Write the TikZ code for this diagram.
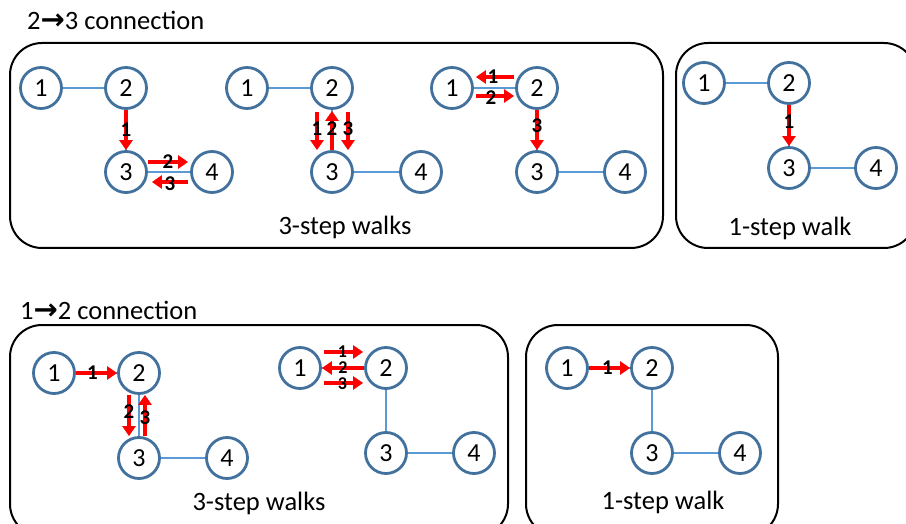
\documentclass[tikz,border=0pt]{standalone}
\usepackage{fontspec}
\setmainfont{Carlito}
\newfontfamily\arrowfont{DejaVu Sans}
\usetikzlibrary{arrows.meta}
\definecolor{vblue}{HTML}{41719C}
\definecolor{eblue}{HTML}{5B9BD5}
\tikzset{
  v/.style={circle, draw=vblue, line width=2.8pt, minimum size=41pt, inner sep=0pt, font=\fontsize{26}{26}\selectfont},
  e/.style={draw=eblue, line width=1.3pt},
  wk/.style={draw=red, line width=4.5pt, -{Triangle[width=13pt,length=10pt]}},
  lab/.style={font=\bfseries\fontsize{21}{21}\selectfont, inner sep=0pt},
  labs/.style={font=\bfseries\fontsize{18}{18}\selectfont, inner sep=0pt},
  panel/.style={draw=black, line width=2pt, rounded corners=32pt},
  captxt/.style={font=\fontsize{26.5}{26.5}\selectfont},
  ttl/.style={font=\fontsize{26.5}{26.5}\selectfont, anchor=west, inner sep=0pt}
}
\begin{document}
\begin{tikzpicture}[x=1pt,y=-1pt]
\useasboundingbox (0,0) rectangle (906,524);
\clip (0,0) rectangle (906,524);
% titles
\node[ttl] (t1) at (27,20) {2{\arrowfont\bfseries\fontsize{29}{29}\selectfont →}3 connection};
\node[ttl] (t2) at (20,310) {1{\arrowfont\bfseries\fontsize{29}{29}\selectfont →}2 connection};
% panels
\draw[panel] (10,43) rectangle (663,248);
\draw[panel] (676,43) rectangle (916,248);
\draw[panel] (10,325) rectangle (508,536);
\draw[panel] (526,325) rectangle (778,536);
\node[captxt] (c1) at (345,227) {3-step walks};
\node[captxt] (c2) at (790,228) {1-step walk};
\node[captxt] (c3) at (259,503) {3-step walks};
\node[captxt] (c4) at (663,502) {1-step walk};
% graph A
\node[v] (a1) at (41,88) {1};
\node[v] (a2) at (126,88) {2};
\node[v] (a3) at (126,172) {3};
\node[v] (a4) at (212,172) {4};
% graph B
\node[v] (b1) at (247,88) {1};
\node[v] (b2) at (332,88) {2};
\node[v] (b3) at (332,172) {3};
\node[v] (b4) at (421,172) {4};
% graph C
\node[v] (cc1) at (452,88) {1};
\node[v] (cc2) at (537,88) {2};
\node[v] (cc3) at (537,172) {3};
\node[v] (cc4) at (625,172) {4};
% graph D
\node[v] (d1) at (704,83) {1};
\node[v] (d2) at (789,83) {2};
\node[v] (d3) at (789,168) {3};
\node[v] (d4) at (876,168) {4};
% graph E
\node[v] (e1) at (54,373) {1};
\node[v] (e2) at (139,373) {2};
\node[v] (e3) at (139,458) {3};
\node[v] (e4) at (227,458) {4};
% graph F
\node[v] (f1) at (300,368) {1};
\node[v] (f2) at (386,368) {2};
\node[v] (f3) at (386,453) {3};
\node[v] (f4) at (474,453) {4};
% graph G
\node[v] (g1) at (567,368) {1};
\node[v] (g2) at (652,368) {2};
\node[v] (g3) at (652,453) {3};
\node[v] (g4) at (740,453) {4};
% edges
\foreach \g in {a,b,cc,d,e,f,g}{
  \draw[e] (\g1) -- (\g2);
  \draw[e] (\g2) -- (\g3);
  \draw[e] (\g3) -- (\g4);
}
% walks A
\draw[wk] (a2) -- (a3) node[lab, midway, text=black] {1};
\draw[wk] ([yshift=10pt]a3.east) -- ([yshift=10pt,xshift=-2pt]a4.west) node[lab, midway, text=black] {2};
\draw[wk] ([yshift=-10pt,xshift=-2pt]a4.west) -- ([yshift=-10pt,xshift=4pt]a3.east) node[lab, midway, text=black, yshift=-2pt] {3};
% walks B
\draw[wk] ([xshift=-15pt,yshift=-2pt]b2.south) -- ([xshift=-15pt]b3.north) node[lab, pos=0.45, text=black] {1};
\draw[wk] (b3.north) -- ([yshift=-1pt]b2.south) node[lab, pos=0.55, text=black] {2};
\draw[wk] ([xshift=16pt,yshift=-2pt]b2.south) -- ([xshift=16pt]b3.north) node[lab, pos=0.45, text=black] {3};
% walks C
\draw[wk] ([yshift=11pt,xshift=-1pt]cc2.west) -- ([yshift=11pt,xshift=2pt]cc1.east) node[lab, midway, text=black, xshift=-2pt] {1};
\draw[wk] ([yshift=-8pt,xshift=2pt]cc1.east) -- ([yshift=-8pt,xshift=-1pt]cc2.west) node[lab, midway, text=black, xshift=-4pt, yshift=-2pt] {2};
\draw[wk] (cc2) -- (cc3) node[lab, pos=0.4, text=black] {3};
% walk D
\draw[wk] (d2) -- (d3) node[lab, pos=0.4, text=black] {1};
% walks E
\draw[wk] (e1) -- (e2) node[lab, pos=0.4, text=black] {1};
\draw[wk] ([xshift=-10pt]e2.south) -- ([xshift=-10pt]e3.north) node[lab, pos=0.4, text=black] {2};
\draw[wk] ([xshift=6pt]e3.north) -- ([xshift=6pt]e2.south) node[lab, pos=0.45, text=black] {3};
% walks F
\draw[wk] ([yshift=16pt,xshift=2pt]f1.east) -- ([yshift=16pt,xshift=-1pt]f2.west) node[labs, midway, text=black, xshift=-1pt] {1};
\draw[wk] (f2) -- (f1) node[labs, midway, text=black] {2};
\draw[wk] ([yshift=-15pt,xshift=2pt]f1.east) -- ([yshift=-15pt,xshift=-1pt]f2.west) node[labs, midway, text=black, xshift=-1pt, yshift=-1pt] {3};
% walk G
\draw[wk] (g1) -- (g2) node[lab, pos=0.45, text=black] {1};
\end{tikzpicture}
\end{document}
